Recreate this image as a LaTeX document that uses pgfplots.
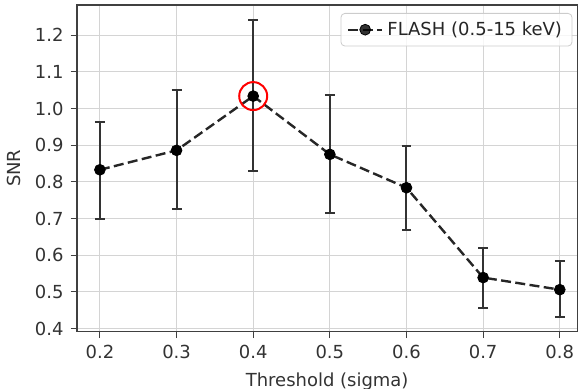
\documentclass[border=0pt]{standalone}
\usepackage{pgfplots}
\pgfplotsset{compat=1.18}
\usepackage{pgfplotstable}
\usepackage{fontspec}
\setmainfont{DejaVu Sans}
\pgfplotstableread{
x y ep em
0.2 0.833 0.131 0.135
0.3 0.886 0.164 0.160
0.4 1.034 0.208 0.205
0.5 0.875 0.162 0.161
0.6 0.784 0.114 0.115
0.7 0.539 0.082 0.082
0.8 0.506 0.078 0.074
}\snr
\begin{document}
\begin{tikzpicture}
\begin{axis}[
  scale only axis, width=250.5pt, height=163.5pt,
  xmin=0.17, xmax=0.823, ymin=0.3915, ymax=1.2825,
  xtick={0.2,0.3,0.4,0.5,0.6,0.7,0.8},
  ytick={0.4,0.5,0.6,0.7,0.8,0.9,1.0,1.1,1.2},
  xticklabels={0.2,0.3,0.4,0.5,0.6,0.7,0.8},
  yticklabels={0.4,0.5,0.6,0.7,0.8,0.9,1.0,1.1,1.2},
  grid=major, grid style={line width=0.5pt, black!17},
  axis line style={black!75, line width=0.6pt},
  tick style={black!75, line width=0.5pt},
  tick align=outside, major tick length=3.2pt, tick pos=left,
  ticklabel style={font=\fontsize{9}{10}\selectfont, text=black!80},
  xlabel={Threshold (sigma)}, ylabel={SNR},
  label style={font=\fontsize{9}{10}\selectfont, text=black!80},
  legend style={at={(rel axis cs:0.99,0.9755)}, anchor=north east,
    draw=black!20, rounded corners=2pt, fill=white, fill opacity=0.8, text opacity=1,
    font=\fontsize{9}{10}\selectfont, text=black!85,
    inner xsep=3pt, inner ysep=2pt},
  legend cell align=left,
]
\addplot[black!85, dash pattern=on 5pt off 2.2pt, line width=1.2pt, mark=*, mark size=2.7pt,
  mark options={solid, fill=black, draw=black, line width=0.4pt},
  error bars/.cd, y dir=both, y explicit,
  error bar style={solid, line width=1pt, black!80},
  error mark options={solid, rotate=90, mark size=2.5pt, line width=1pt, black!80}]
  table[x=x, y=y, y error plus=ep, y error minus=em] {\snr};
\addlegendimage{legend image code/.code={
  \draw[black!85, dash pattern=on 5pt off 2.2pt, line width=1.2pt] (0pt,0pt) -- (18pt,0pt);
  \draw[black!80, line width=1pt] (9pt,-4pt) -- (9pt,4pt);
  \draw[black!80, line width=1pt] (6.5pt,-4pt) -- (11.5pt,-4pt);
  \draw[black!80, line width=1pt] (6.5pt,4pt) -- (11.5pt,4pt);
  \fill[black] (9pt,0pt) circle (2.8pt);
}}
\addlegendentry{FLASH (0.5-15 keV)}
\addplot[only marks, mark=o, mark size=7pt, red, line width=1pt, forget plot]
  coordinates {(0.4,1.034)};
\end{axis}
\pgfresetboundingbox
\path[use as bounding box] ([xshift=-38.5pt,yshift=-28.5pt]current axis.south west) rectangle ([xshift=0.3pt,yshift=2.5pt]current axis.north east);
\end{tikzpicture}
\end{document}
